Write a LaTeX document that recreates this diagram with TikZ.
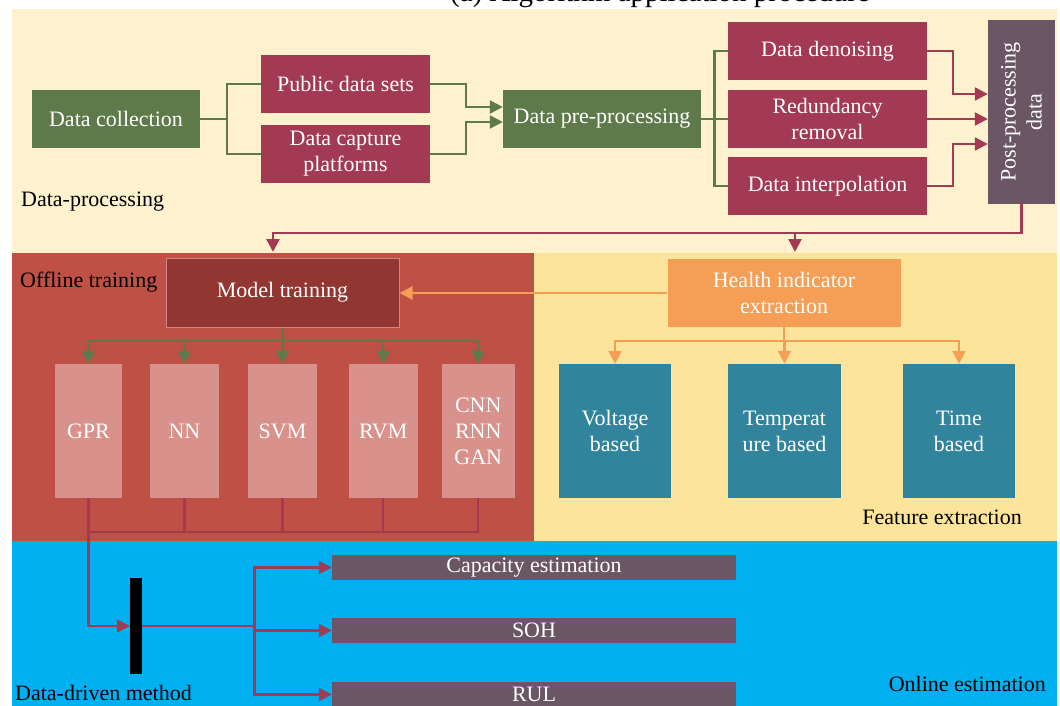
\documentclass[tikz,border=0pt]{standalone}
\usepackage{fontspec}
\setmainfont{Liberation Serif}
\usetikzlibrary{arrows.meta,calc}
\definecolor{cream}{HTML}{FEF1CD}
\definecolor{yel}{HTML}{FDE49B}
\definecolor{redband}{HTML}{BF5046}
\definecolor{blueband}{HTML}{00B0F0}
\definecolor{cgreen}{HTML}{5F7A4A}
\definecolor{crim}{HTML}{A33A53}
\definecolor{mauve}{HTML}{6A5763}
\definecolor{modelc}{HTML}{923631}
\definecolor{pinkc}{HTML}{D8918B}
\definecolor{orangec}{HTML}{F59E55}
\definecolor{tealc}{HTML}{31849B}
\begin{document}
\begin{tikzpicture}[x=1pt,y=-1pt,font=\fontsize{22}{26}\selectfont,
  box/.style={draw=none,inner sep=0pt,align=center,text=white},
  gl/.style={draw=cgreen,line width=2.3pt},
  ga/.style={gl,-{Triangle[length=13pt,width=13pt]}},
  rl/.style={draw=crim,line width=2.3pt},
  ra/.style={rl,-{Triangle[length=13pt,width=13pt]}},
  ol/.style={draw=orangec,line width=2.3pt},
  oa/.style={ol,-{Triangle[length=13pt,width=13pt]}},
  lbl/.style={inner sep=0pt,text=black}]
\useasboundingbox (0,0) rectangle (1060,706);
% bands
\fill[cream] (12,9) rectangle (1057,253);
\fill[redband] (12,253) rectangle (534,541);
\fill[yel] (534,253) rectangle (1057,541);
\fill[blueband] (12,541) rectangle (1057,706);
% title (cut off at top, as in the reference)
\node[anchor=base,font=\fontsize{29}{32}\selectfont,inner sep=0pt] (title) at (660,2) {(a) Algorithm application procedure};
% top boxes
\node[box,fill=cgreen,minimum width=168pt,minimum height=58pt] (dc) at (116,119) {Data collection};
\node[box,fill=crim,minimum width=169pt,minimum height=58pt] (pub) at (345.5,84) {Public data sets};
\node[box,fill=crim,minimum width=169pt,minimum height=58pt] (cap) at (345.5,154) {Data capture\\platforms};
\node[box,fill=cgreen,minimum width=198pt,minimum height=58pt] (dpp) at (602,119) {Data pre-processing};
\node[box,fill=crim,minimum width=199pt,minimum height=58pt] (den) at (827.5,51) {Data denoising};
\node[box,fill=crim,minimum width=199pt,minimum height=58pt] (red) at (827.5,119) {Redundancy\\removal};
\node[box,fill=crim,minimum width=199pt,minimum height=58pt] (int) at (827.5,186) {Data interpolation};
\node[box,fill=mauve,minimum width=67pt,minimum height=184pt] (post) at (1021.5,112) {};
\node[box,rotate=90] (posttext) at (post.center) {Post-processing\\data};
\node[lbl,anchor=west] (ldp) at (21,202) {Data-processing};
% top connectors
\coordinate (j1) at (227,119);
\draw[gl] (dc.east) -- (j1);
\draw[gl] (pub.west) -| (j1) |- (cap.west);
\draw[ga] (pub.east) -- ++(36,0) |- ([yshift=12pt]dpp.west);
\draw[ga] (cap.east) -- ++(36,0) |- ([yshift=-3pt]dpp.west);
\coordinate (j3) at (714.5,119);
\draw[gl] (dpp.east) -- (red.west);
\draw[gl] (den.west) -| (j3) |- (int.west);
\draw[ra] (den.east) -- ++(26,0) |- ([yshift=18pt]post.west);
\draw[ra] (red.east) -- (red.east -| post.west);
\draw[ra] (int.east) -- ++(26,0) |- ([yshift=-32pt]post.west);
\coordinate (a1) at (273,252);
\coordinate (jr) at (795,233);
\coordinate (a2) at (795,252);
\draw[ra] (post.south) |- (273,233) -- (a1);
\draw[ra] (jr) -- (a2);
% middle left
\node[lbl,anchor=west] (lot) at (20,282) {Offline training};
\node[box,fill=modelc,draw=redband!70!white,line width=1pt,minimum width=233pt,minimum height=69pt] (model) at (282.5,292.5) {Model training};
\node[box,fill=pinkc,minimum width=67pt,minimum height=134pt] (gpr) at (88.5,431) {GPR};
\node[box,fill=pinkc,minimum width=69pt,minimum height=134pt] (nn) at (184.5,431) {NN};
\node[box,fill=pinkc,minimum width=69.5pt,minimum height=134pt] (svm) at (282.5,431) {SVM};
\node[box,fill=pinkc,minimum width=69.5pt,minimum height=134pt] (rvm) at (383.25,431) {RVM};
\node[box,fill=pinkc,minimum width=73.5pt,minimum height=134pt] (cnn) at (478.25,431) {CNN\\RNN\\GAN};
\coordinate (gb) at (282.5,341);
\draw[gl] (model.south) -- (gb);
\foreach \n in {gpr,nn,svm,rvm,cnn} {\draw[ga] (gb) -| (\n.north);}
\coordinate (pbl) at (88.5,532);
\draw[rl] (cnn.south) |- (pbl);
\foreach \n in {nn,svm,rvm} {\draw[rl] (\n.south) -- (\n.south |- pbl);}
% middle right
\node[box,fill=orangec,minimum width=233pt,minimum height=68pt] (hi) at (784,293) {Health indicator\\extraction};
\node[box,fill=tealc,minimum width=112pt,minimum height=134pt] (volt) at (615,431) {Voltage\\based};
\node[box,fill=tealc,minimum width=113pt,minimum height=134pt] (temp) at (784.5,431) {Temperat\\ure based};
\node[box,fill=tealc,minimum width=112pt,minimum height=134pt] (time) at (959,431) {Time\\based};
\node[lbl,anchor=east] (lfe) at (1022,517) {Feature extraction};
\draw[oa] (hi.west) -- (hi.west -| model.east);
\coordinate (ob) at (784,341);
\draw[ol] (hi.south) -- (ob);
\foreach \n in {volt,temp,time} {\draw[oa] (ob) -| (\n.north);}
% bottom
\node[fill=black,inner sep=0pt,minimum width=12pt,minimum height=96pt] (bar) at (136,626) {};
\node[box,fill=mauve,minimum width=404pt,minimum height=25pt] (capest) at (534,567.5) {Capacity estimation};
\node[box,fill=mauve,minimum width=404pt,minimum height=25pt] (soh) at (534,630.5) {SOH};
\node[box,fill=mauve,minimum width=404pt,minimum height=25pt] (rul) at (534,694.5) {RUL};
\draw[ra] (gpr.south) |- (bar.west);
\coordinate (jb) at (254.5,626);
\draw[rl] (bar.east) -- (jb);
\draw[ra] (jb) |- (capest.west);
\draw[ra] (jb) |- (soh.west);
\draw[ra] (jb) |- (rul.west);
\node[lbl,anchor=west] (ldd) at (15,693) {Data-driven method};
\node[lbl,anchor=east] (loe) at (1046,684) {Online estimation};
\end{tikzpicture}
\end{document}
